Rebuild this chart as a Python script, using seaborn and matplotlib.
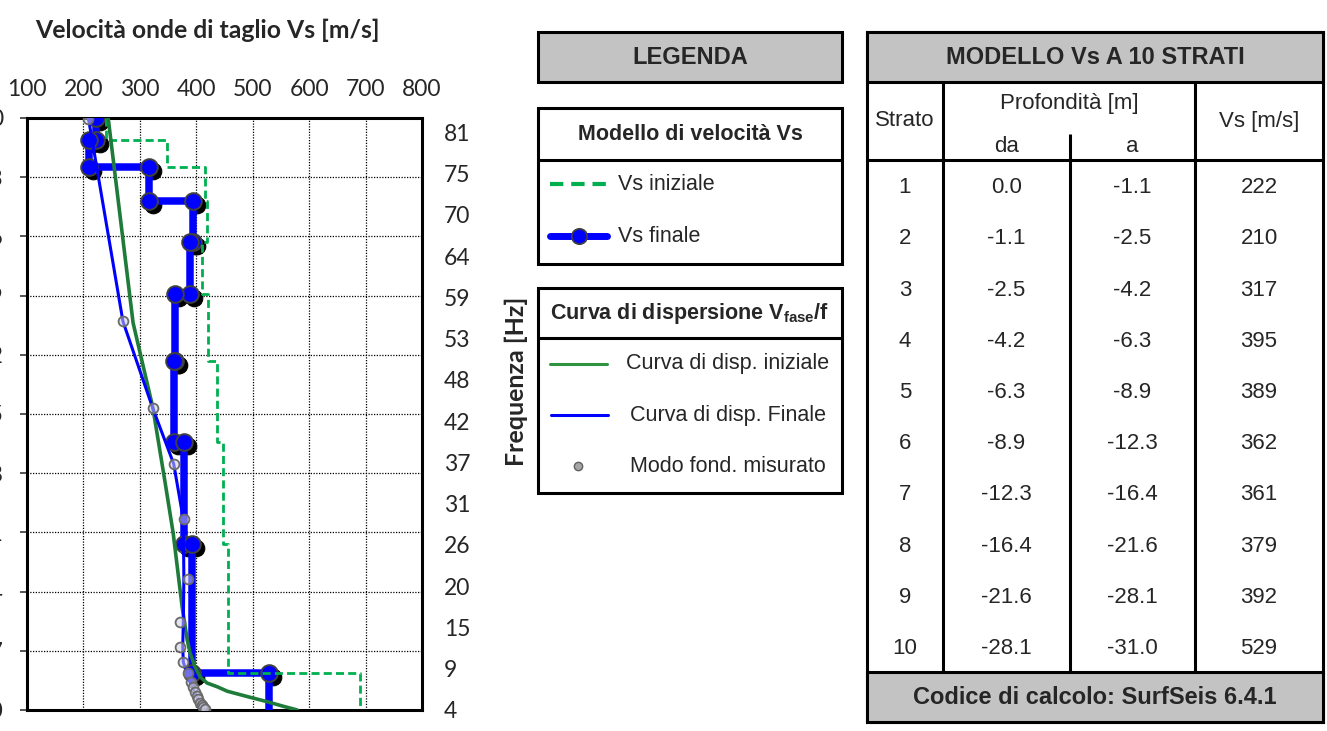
import numpy as np
import pandas as pd
import matplotlib
matplotlib.use("Agg")
import matplotlib.pyplot as plt
import matplotlib.transforms as mtransforms
from matplotlib.patches import Rectangle
import seaborn as sns

# ---------------- layer model (final and initial Vs) ----------------
strato = [1, 2, 3, 4, 5, 6, 7, 8, 9, 10]
depth_from = [0.0, -1.1, -2.5, -4.2, -6.3, -8.9, -12.3, -16.4, -21.6, -28.1]
depth_to = [-1.1, -2.5, -4.2, -6.3, -8.9, -12.3, -16.4, -21.6, -28.1, -31.0]
vs_final = [222, 210, 317, 395, 389, 362, 361, 379, 392, 529]
vs_initial = [240, 348, 416, 419, 410, 421, 437, 448, 456, 690]

# ---------------- dispersion curves (phase velocity vs frequency) ----------------
meas_freq = [82.5, 55.5, 43.9, 36.5, 29.1, 21.2, 15.4, 12.1, 10.1, 8.6,
             7.4, 6.8, 6.1, 5.6, 5.2, 4.6, 4.4, 4.1, 3.8]
meas_vel = [208, 270, 323, 361, 379, 385, 371, 371, 377, 385,
            391, 394, 398, 401, 403, 407, 410, 412, 416]
final_vel = [209, 270, 323, 360, 377, 378, 377, 376, 377, 383,
             389, 393, 397, 400, 403, 407, 409, 412, 415]
init_freq = [82.5, 55.3, 44.0, 33.9, 27.3, 17.4, 13.0, 11.3, 9.4, 8.1,
             7.3, 6.8, 6.2, 5.4, 4.8, 4.2, 3.7]
init_vel = [244, 288, 323, 345, 359, 375, 384, 389, 398, 407,
            419, 437, 455, 495, 526, 554, 579]

# ---------------- axis ticks ----------------
vel_ticks = [100, 200, 300, 400, 500, 600, 700, 800]
depth_ticks = [0, -3, -6, -9, -12, -15, -18, -21, -24, -27, -30]
freq_labels = [4, 9, 15, 20, 26, 31, 37, 42, 48, 53, 59, 64, 70, 75, 81]

# ---------------- styling ----------------
sns.set_style("white")
plt.rcParams["font.family"] = ["Lato", "DejaVu Sans"]
plt.rcParams["axes.unicode_minus"] = False
plt.rcParams["mathtext.fontset"] = "custom"
plt.rcParams["mathtext.rm"] = "Liberation Sans"
plt.rcParams["mathtext.bf"] = "Liberation Sans:bold"

BLUE = "#0000ff"
GREEN_DASH = "#00b050"
GREEN_LINE = "#1e7b3a"
W, H = 1327, 731
CHART_FONT = ["Lato", "DejaVu Sans"]
PANEL_FONT = ["Liberation Sans", "DejaVu Sans"]

fig = plt.figure(figsize=(W / 100, H / 100), dpi=100)
fig.patch.set_facecolor("white")

# ---------------- profile chart ----------------
ax = fig.add_axes([27 / W, 1 - 710 / H, 395 / W, 592 / H])

step_vs_fin = np.repeat(vs_final, 2)
step_vs_ini = np.repeat(vs_initial, 2)
step_depth = np.column_stack([depth_from, depth_to]).ravel()
df_fin = pd.DataFrame({"vs": step_vs_fin, "depth": step_depth})
df_ini = pd.DataFrame({"vs": step_vs_ini, "depth": step_depth})

# marker shadows
n0 = len(ax.lines)
sns.lineplot(data=df_fin, x="vs", y="depth", sort=False, estimator=None, ax=ax,
             color="black", linestyle="none", marker="o", markersize=12,
             markerfacecolor="black", markeredgecolor="black", zorder=2)
shadow = ax.lines[n0]
shadow.set_transform(mtransforms.offset_copy(ax.transData, fig=fig, x=4, y=-4, units="dots"))

# final Vs step profile
sns.lineplot(data=df_fin, x="vs", y="depth", sort=False, estimator=None, ax=ax,
             color=BLUE, linewidth=5.4, marker="o", markersize=12,
             markerfacecolor=BLUE, markeredgecolor="#404040", markeredgewidth=1.4,
             zorder=3)
# initial Vs step profile
sns.lineplot(data=df_ini, x="vs", y="depth", sort=False, estimator=None, ax=ax,
             color=GREEN_DASH, linewidth=2.0, dashes=False, zorder=4)
ax.lines[-1].set_dashes((2.9, 1.5))

ax.set_xlim(100, 800)
ax.set_ylim(-30, 0)
ax.set_xticks(vel_ticks)
ax.set_xticklabels([str(v) for v in vel_ticks])
ax.set_yticks(depth_ticks)
ax.set_yticklabels([str(d) for d in depth_ticks])
ax.xaxis.tick_top()
ax.set_xlabel("")
ax.set_ylabel("")
ax.grid(True, color="black", linestyle=(0, (1, 1.2)), linewidth=0.9)
ax.set_axisbelow(True)
for s in ax.spines.values():
    s.set_visible(True)
    s.set_linewidth(2.2)
    s.set_color("black")
ax.tick_params(axis="x", length=0, pad=13, labelsize=16.5)
ax.tick_params(axis="y", direction="out", length=5, width=1.4, color="#555555",
               pad=12, labelsize=16.5, left=True)
for lab in ax.get_xticklabels() + ax.get_yticklabels():
    lab.set_family(CHART_FONT)

# ---------------- dispersion curves on frequency axis ----------------
ax2 = ax.twinx()
df_init_curve = pd.DataFrame({"v": init_vel, "f": init_freq})
df_final_curve = pd.DataFrame({"v": final_vel, "f": meas_freq})
df_meas = pd.DataFrame({"v": meas_vel, "f": meas_freq})

sns.lineplot(data=df_init_curve, x="v", y="f", sort=False, estimator=None, ax=ax2,
             color=GREEN_LINE, linewidth=2.6, zorder=5)
sns.lineplot(data=df_final_curve, x="v", y="f", sort=False, estimator=None, ax=ax2,
             color=BLUE, linewidth=2.2, zorder=6)
sns.scatterplot(data=df_meas, x="v", y="f", ax=ax2, s=50,
                color=(0.80, 0.80, 0.88, 0.55), edgecolor="#6a6a6a",
                linewidth=1.3, zorder=7)

ax2.set_ylim(3.7, 82.6)
ax2.set_yticks(np.linspace(3.7, 80.7, len(freq_labels)))
ax2.set_yticklabels([str(f) for f in freq_labels])
ax2.tick_params(axis="y", length=0, pad=16, labelsize=16.5)
for lab in ax2.get_yticklabels():
    lab.set_family(CHART_FONT)
for s in ax2.spines.values():
    s.set_visible(False)
ax2.set_xlabel("")
ax2.set_ylabel("Frequenza [Hz]", fontsize=18, fontweight="bold", family=CHART_FONT)
ax2.yaxis.set_label_coords((505 - 27) / 395, (710 - 381) / 592)
ax.set_xlim(100, 800)

fig.text(35 / W, 1 - 30 / H, "Velocità onde di taglio Vs [m/s]", fontsize=17.8,
         fontweight="bold", family=CHART_FONT, ha="left", va="center")

# ---------------- legend panel and layer table ----------------
pan = fig.add_axes([0, 0, 1, 1], zorder=10)
pan.set_xlim(0, W)
pan.set_ylim(H, 0)
pan.axis("off")
pan.patch.set_alpha(0)

GREY = "#c3c3c3"
BW = 2.2


def box(x0, y0, x1, y1, fill="white", lw=BW):
    pan.add_patch(Rectangle((x0, y0), x1 - x0, y1 - y0, facecolor=fill,
                            edgecolor="black", linewidth=lw, zorder=1))


def hline(y, x0, x1, lw=BW):
    pan.plot([x0, x1], [y, y], color="black", linewidth=lw, solid_capstyle="butt", zorder=2)


def vline(x, y0, y1, lw=BW):
    pan.plot([x, x], [y0, y1], color="black", linewidth=lw, solid_capstyle="butt", zorder=2)


def txt(x, y, s, size=15.5, bold=False, ha="center"):
    pan.text(x, y, s, fontsize=size, fontweight="bold" if bold else "normal",
             family=PANEL_FONT, ha=ha, va="center", zorder=3)


# legend header
box(538, 32, 842, 82, fill=GREY)
txt(690, 57, "LEGENDA", size=17, bold=True)

# velocity model legend
box(538, 108, 842, 264)
hline(160, 538, 842)
txt(690, 134, "Modello di velocità Vs", bold=True)
pan.plot([550, 607], [184, 184], color=GREEN_DASH, linewidth=3.0, dashes=(3.2, 1.9), zorder=3)
txt(618, 184, "Vs iniziale", ha="left")
pan.plot([550, 579, 607], [236, 236, 236], color=BLUE, linewidth=5.0, marker="o", markersize=11,
         markerfacecolor=BLUE, markeredgecolor="#404040", markeredgewidth=1.3,
         markevery=[1], zorder=3)
txt(618, 236, "Vs finale", ha="left")

# dispersion curve legend
box(538, 288, 842, 493)
hline(338, 538, 842)
txt(690, 313, r"Curva di dispersione V$_{\mathbf{fase}}$/f", bold=True)
pan.plot([550, 607], [364, 364], color="#2e9440", linewidth=2.2, zorder=3)
txt(728, 364, "Curva di disp. iniziale")
pan.plot([551, 608], [415, 415], color=BLUE, linewidth=2.2, zorder=3)
txt(728, 415, "Curva di disp. Finale")
pan.plot([578], [466], linestyle="none", marker="o", markersize=6,
         markerfacecolor="#a6a6a6", markeredgecolor="#606060", markeredgewidth=1.0, zorder=3)
txt(728, 466, "Modo fond. misurato")

# layer table
TX0, TX1 = 867, 1323
box(TX0, 32, TX1, 722)
box(TX0, 32, TX1, 82, fill=GREY)
box(TX0, 672, TX1, 722, fill=GREY)
txt((TX0 + TX1) / 2, 57, "MODELLO Vs A 10 STRATI", size=17, bold=True)
txt((TX0 + TX1) / 2, 697, "Codice di calcolo: SurfSeis 6.4.1", size=17, bold=True)

col_x = [943, 1070, 1195]
vline(col_x[0], 82, 672)
vline(col_x[2], 82, 672)
vline(col_x[1], 134, 672)
hline(160, TX0, TX1)

col_c = [(TX0 + col_x[0]) / 2, (col_x[0] + col_x[1]) / 2,
         (col_x[1] + col_x[2]) / 2, (col_x[2] + TX1) / 2]
txt(col_c[0], 121, "Strato", size=16)
txt((col_x[0] + col_x[2]) / 2, 104, "Profondità [m]", size=16)
txt(col_c[1], 147, "da", size=16)
txt(col_c[2], 147, "a", size=16)
txt(col_c[3], 121, "Vs [m/s]", size=16)

row_h = (672 - 160) / len(strato)
for i, (n, d0, d1, v) in enumerate(zip(strato, depth_from, depth_to, vs_final)):
    yc = 160 + row_h * (i + 0.5) + 2
    txt(col_c[0], yc, str(n), size=16)
    txt(col_c[1], yc, f"{d0:.1f}", size=16)
    txt(col_c[2], yc, f"{d1:.1f}", size=16)
    txt(col_c[3], yc, str(v), size=16)

fig.savefig("out.png", dpi=100, facecolor="white")
